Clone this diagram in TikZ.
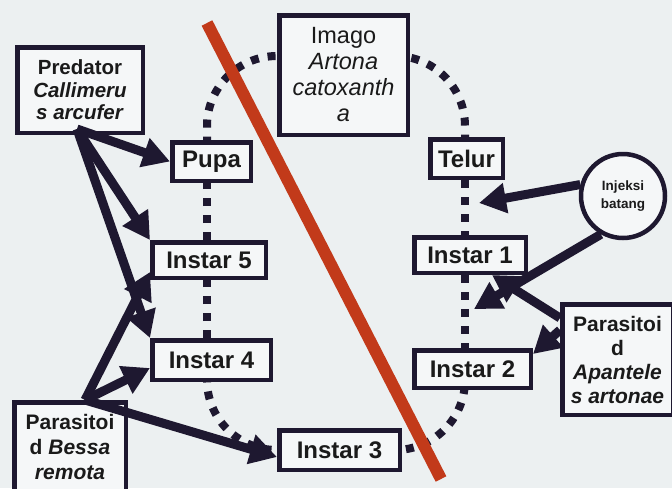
\documentclass[tikz,border=0pt]{standalone}
\usepackage{fontspec}
\setmainfont{Liberation Sans}
\usetikzlibrary{arrows.meta,calc}
\pgfdeclarelayer{background}
\pgfsetlayers{background,main}
\definecolor{ink}{HTML}{1E1830}
\definecolor{bgc}{HTML}{ECF0F1}
\definecolor{boxfill}{HTML}{F5F7F8}
\definecolor{redbar}{HTML}{C23A1A}
\definecolor{txt}{HTML}{1A1A1A}
\newcommand{\setfs}[2]{\fontsize{#1pt}{#2pt}\selectfont}
\begin{document}
\begin{tikzpicture}[x=1pt,y=-1pt,
  box/.style={draw=ink, line width=4.5pt, fill=boxfill, inner sep=0pt, align=center, text=txt},
  loopline/.style={draw=ink, line width=8pt, dash pattern=on 8pt off 9pt},
  arr/.style={draw=ink, line width=9pt, -{Triangle[length=27pt,width=29pt]}},
  instfont/.style={font=\setfs{24}{26}\bfseries}
]
\useasboundingbox (0,0) rectangle (672,488);
\begin{scope}
\clip (0,0) rectangle (672,488);

% nodes
\node[box, minimum width=125.5pt, minimum height=85.5pt, font=\setfs{20.5}{22.5}\bfseries] (pred) at (80,90) {Predator\\\textit{Callimeru}\\\textit{s arcufer}};
\node[box, minimum width=128.5pt, minimum height=119.5pt, font=\setfs{23.5}{26}] (imago) at (343.5,75) {Imago\\\textit{Artona}\\\textit{catoxanth}\\\textit{a}};
\node[box, instfont, minimum width=78.5pt, minimum height=38.5pt] (pupa) at (211.5,161.5) {Pupa};
\node[box, instfont, minimum width=72.5pt, minimum height=38.5pt] (telur) at (466.5,158.5) {Telur};
\node[box, circle, minimum size=84pt, font=\setfs{13.5}{18}\bfseries] (inj) at (623,196) {Injeksi\\batang};
\node[box, instfont, minimum width=113.5pt, minimum height=35.5pt] (i5) at (209,260) {Instar 5};
\node[box, instfont, minimum width=111.5pt, minimum height=35.5pt] (i1) at (470,255) {Instar 1};
\node[box, instfont, minimum width=118.5pt, minimum height=39.5pt] (i4) at (211.5,360) {Instar 4};
\node[box, instfont, minimum width=116.5pt, minimum height=37.5pt] (i2) at (472.5,369) {Instar 2};
\node[box, instfont, minimum width=120.5pt, minimum height=39.5pt] (i3) at (339.5,450) {Instar 3};
\node[box, minimum width=110.5pt, minimum height=110.5pt, font=\setfs{21}{24}\bfseries] (apan) at (617.5,359.5) {Parasitoi\\d\\\textit{Apantele}\\\textit{s artonae}};
\node[box, minimum width=111.5pt, minimum height=89.5pt, font=\setfs{21}{25}\bfseries] (bessa) at (70,447) {Parasitoi\\d \textit{Bessa}\\\textit{remota}};

% background layer: fill, life-cycle loop, red bar
\begin{pgfonlayer}{background}
\fill[bgc] (0,0) rectangle (672,488);
\coordinate (L) at (207,0);
\coordinate (R) at (465,0);
\coordinate (T) at (0,56);
\draw[loopline, rounded corners=70pt] (pupa.center -| L) |- (imago.center |- T);
\draw[loopline, rounded corners=70pt] (imago.center |- T) -| (telur.center -| R);
\draw[loopline] (telur.south -| R) -- (i1.north -| R);
\draw[loopline] (i1.south -| R) -- (i2.north -| R);
\draw[loopline, rounded corners=70pt] (i2.center -| R) |- (i3.center);
\draw[loopline, rounded corners=70pt] (i3.center) -| (i4.center -| L);
\draw[loopline] (i4.north -| L) -- (i5.south -| L);
\draw[loopline] (i5.north -| L) -- (pupa.south -| L);
\draw[redbar, line width=12pt] (207,23) -- (441,479);
\end{pgfonlayer}

% arrows
\coordinate (ps) at ($(pred.south)+(-3,-6)$);
\draw[arr] (ps) -- (pupa.west);
\draw[arr] (ps) -- (i5.north west);
\draw[arr] (ps) -- (i4.north west);
\coordinate (bs) at ($(bessa.north)+(15,0)$);
\draw[arr] (bs) -- ($(i5.south west)+(0,-8)$);
\draw[arr] (bs) -- ($(i4.west)+(0,8)$);
\draw[arr] (bs) -- ($(i3.west)+(0,7)$);
\coordinate (g1) at (479,203);
\coordinate (g2) at (474,309);
\draw[arr] (inj.165) -- (g1);
\draw[arr] (inj.240) -- (g2);
\draw[arr] ($(apan.north west)+(0,16)$) -- ($(i1.south)+(22,0)$);
\draw[arr] ($(apan.north west)+(0,28)$) -- ($(i2.north east)+(0,6)$);
\end{scope}
\end{tikzpicture}
\end{document}
